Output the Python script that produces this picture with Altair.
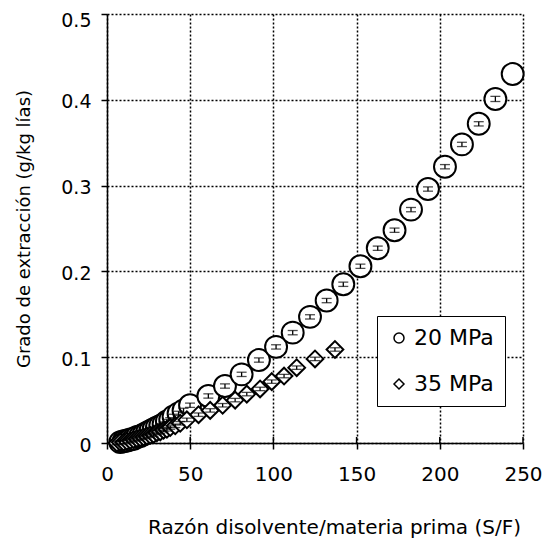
import altair as alt
import pandas as pd

# ---- data ----
series = ["20 MPa", "35 MPa"]

x20 = [8, 10, 12, 14, 16, 18, 20, 22, 24, 26, 28, 30, 32, 34, 36, 38, 40, 43, 46,
       49.9, 60.9, 70.9, 80.9, 91.3, 101.6, 111.6, 122, 132, 142, 152.3, 162.7,
       172.8, 182.7, 192.9, 203.1, 213.3, 223.4, 233.4, 243.8]
y20 = [0.001, 0.002, 0.003, 0.004, 0.005, 0.007, 0.008, 0.010, 0.012, 0.014, 0.016,
       0.018, 0.020, 0.022, 0.025, 0.027, 0.031, 0.0345, 0.038,
       0.044, 0.0548, 0.0664, 0.080, 0.0967, 0.112, 0.1286, 0.147, 0.166, 0.185,
       0.206, 0.227, 0.248, 0.272, 0.296, 0.322, 0.348, 0.372, 0.401, 0.430]
e20 = [0.0025, 0.0025, 0.0025, 0.0025, 0.0025, 0.0025, 0.0025, 0.0025, 0.0025, 0.0025,
       0.0025, 0.0025, 0.0025, 0.0025, 0.0025, 0.0025, 0.0025, 0.0025, 0.0025,
       0.0025, 0.0025, 0.0025, 0.0025, 0.0025, 0.0025, 0.0025, 0.0025, 0.0025, 0.0025,
       0.0025, 0.0025, 0.0025, 0.0025, 0.0025, 0.0025, 0.0025, 0.0025, 0.003, 0.0]

x35 = [6, 8, 10, 12, 14, 16, 18, 20, 22, 24, 26, 28, 30, 32, 34, 36, 38, 41, 44, 48,
       55, 62, 69.5, 77, 84, 92, 99, 106.4, 114, 125, 137]
y35 = [0.000, 0.001, 0.001, 0.002, 0.003, 0.004, 0.005, 0.006, 0.007, 0.008, 0.009,
       0.010, 0.012, 0.013, 0.015, 0.016, 0.018, 0.020, 0.023, 0.027,
       0.033, 0.038, 0.044, 0.050, 0.057, 0.063, 0.0715, 0.078, 0.0878, 0.098, 0.109]
e35 = [0.002, 0.002, 0.002, 0.002, 0.002, 0.002, 0.002, 0.002, 0.002, 0.002, 0.002,
       0.002, 0.002, 0.002, 0.002, 0.002, 0.002, 0.002, 0.002, 0.002,
       0.002, 0.002, 0.002, 0.002, 0.002, 0.002, 0.002, 0.002, 0.002, 0.002, 0.002]

x_ticks = [0, 50, 100, 150, 200, 250]
y_ticks = [0, 0.1, 0.2, 0.3, 0.4, 0.5]

x_title = "Razón disolvente/materia prima (S/F)"
y_title = "Grado de extracción (g/kg lías)"

FONT = "DejaVu Sans"

df20 = pd.DataFrame({"x": x20, "y": y20, "e": e20, "serie": series[0]})
df35 = pd.DataFrame({"x": x35, "y": y35, "e": e35, "serie": series[1]})
for d in (df20, df35):
    d["lo"] = d["y"] - d["e"]
    d["hi"] = d["y"] + d["e"]
df_legend = pd.DataFrame({"x": pd.Series([], dtype=float),
                          "y": pd.Series([], dtype=float),
                          "serie": pd.Series([], dtype=str)})
df_xticks = pd.DataFrame({"x": x_ticks[1:]})

xs = alt.Scale(domain=[0, 250], nice=False, zero=False)
ys = alt.Scale(domain=[0, 0.5], nice=False, zero=False)
shape_scale = alt.Scale(domain=series, range=["circle", "diamond"])

x_enc = alt.X("x:Q", scale=xs, title=x_title,
              axis=alt.Axis(values=x_ticks, format="d", labelPadding=15,
                            labelFontSize=20,
                            titleX=227, titleY=90, titleBaseline="alphabetic",
                            titleFontSize=20))
y_enc = alt.Y("y:Q", scale=ys, title=y_title,
              axis=alt.Axis(values=y_ticks, labelPadding=10, titlePadding=27,
                            labelFontSize=19,
                            labelOffset={"condition": {"test": "datum.value >= 0.5", "value": 6},
                                         "value": 2},
                            titleFontSize=18,
                            labelExpr="datum.value == 0 ? '0' : format(datum.value, '.1f')"))

legend = alt.Legend(title=None, orient="none", legendX=270, legendY=302,
                    strokeColor="black", fillColor="white", padding=11,
                    labelFontSize=22, labelFont=FONT, labelColor="black",
                    symbolSize=100, symbolStrokeColor="black",
                    symbolStrokeWidth=1.5, rowPadding=24, labelOffset=4)

legend_layer = alt.Chart(df_legend).mark_point(
    color="black", size=100, strokeWidth=1.5, opacity=1
).encode(
    x=alt.X("x:Q", scale=xs), y=alt.Y("y:Q", scale=ys),
    shape=alt.Shape("serie:N", scale=shape_scale, legend=legend),
)

# inner half of the x-axis ticks (the reference ticks cross the axis line)
inner_ticks = alt.Chart(df_xticks).mark_rule(color="black", strokeWidth=1.5).encode(
    x=alt.X("x:Q", scale=xs), y=alt.value(429), y2=alt.value(423))


def points(df, shape, size):
    return alt.Chart(df).mark_point(
        shape=shape, filled=True, fill="white", stroke="black", strokeWidth=2,
        size=size, opacity=1
    ).encode(x=x_enc, y=y_enc)


def errbars(df):
    d = df[df["e"] > 0]
    rule = alt.Chart(d).mark_rule(color="black", strokeWidth=1.3).encode(
        x="x:Q", y="lo:Q", y2="hi:Q")
    cap_lo = alt.Chart(d).mark_tick(color="black", orient="horizontal", size=10,
                                    thickness=1.3).encode(x="x:Q", y="lo:Q")
    cap_hi = alt.Chart(d).mark_tick(color="black", orient="horizontal", size=10,
                                    thickness=1.3).encode(x="x:Q", y="hi:Q")
    return rule + cap_lo + cap_hi


chart = alt.layer(
    points(df20, "circle", 480),
    errbars(df20),
    points(df35, "diamond", 280),
    errbars(df35),
    inner_ticks,
    legend_layer,
).properties(
    width=416, height=429,
    background="white",
    autosize=alt.AutoSizeParams(type="none"),
    padding={"left": 99, "top": 6, "right": 22, "bottom": 96},
).configure_view(
    stroke=None
).configure_axis(
    grid=True, gridColor="black", gridDash=[2, 2], gridWidth=1.5, gridOpacity=1,
    domainColor="black", domainWidth=1.5, tickColor="black", tickWidth=1.5, tickSize=6,
    labelFont=FONT, labelColor="black",
    titleFont=FONT, titleFontWeight="normal", titleColor="black",
    labelOverlap=False, labelFlush=False,
)

chart.save("out.html", embed_options={"renderer": "svg", "actions": False})
